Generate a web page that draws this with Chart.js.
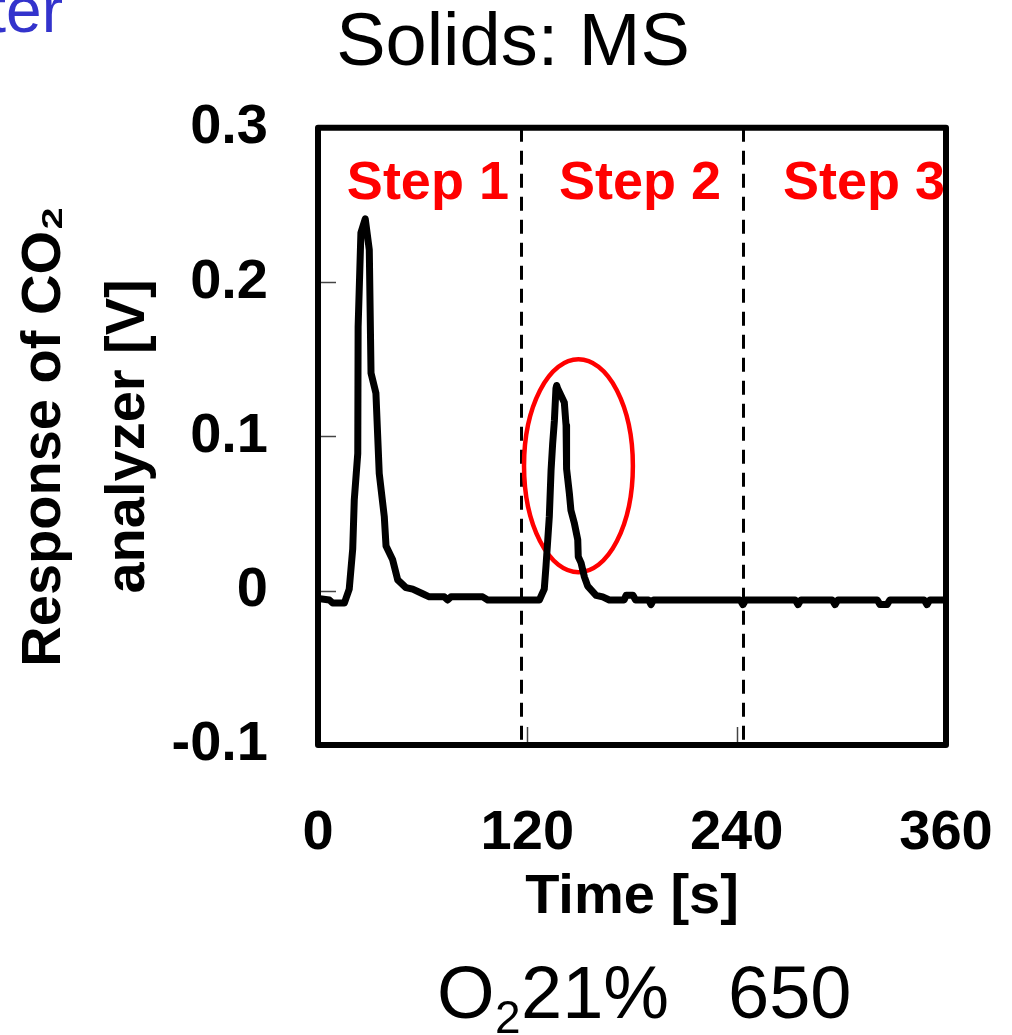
<!DOCTYPE html>
<html><head><meta charset="utf-8">
<script src="https://cdn.jsdelivr.net/npm/chart.js@4/dist/chart.umd.min.js"></script>
<style>html,body{margin:0;padding:0;background:#fff;overflow:hidden}canvas{display:block}</style>
</head><body>
<canvas id="c" width="1012" height="1035"></canvas>
<script>
// ---- data ----
const times = [0, 6.5, 8.4, 15.1, 17.9, 19.9, 20.8, 22.8, 23.0, 24.6, 27.1, 29.4, 30.4, 33.2, 35.1, 38.0, 39.0, 42.8, 45.7, 50.4, 54.3, 60.0, 63.8, 72.4, 74.3, 76.2, 94.4, 97.3, 126.9, 129.7, 130.7, 132.6, 133.6, 134.5, 135.5, 136.4, 136.8, 137.4, 141.2, 142.2, 142.5, 144.1, 145.0, 146.9, 148.9, 149.2, 150.8, 152.7, 154.6, 159.4, 163.2, 167.0, 175.5, 176.6, 180.6, 182, 189.5, 190.9, 192.3, 242, 243.6, 245.2, 273.6, 275.2, 276.8, 294.8, 296.4, 298, 320.6, 322.2, 326.2, 327.8, 347.5, 349.1, 350.7, 360];
const values = [-0.005, -0.006, -0.008, -0.008, 0.001, 0.027, 0.059, 0.089, 0.171, 0.232, 0.241, 0.221, 0.141, 0.128, 0.076, 0.048, 0.029, 0.020, 0.007, 0.002, 0.001, -0.002, -0.004, -0.004, -0.006, -0.004, -0.004, -0.006, -0.006, 0.001, 0.016, 0.048, 0.078, 0.095, 0.110, 0.131, 0.133, 0.131, 0.122, 0.107, 0.079, 0.063, 0.052, 0.044, 0.033, 0.022, 0.018, 0.009, 0.003, -0.003, -0.004, -0.006, -0.006, -0.003, -0.003, -0.006, -0.006, -0.009, -0.006, -0.006, -0.009, -0.006, -0.006, -0.009, -0.006, -0.006, -0.009, -0.006, -0.006, -0.009, -0.009, -0.006, -0.006, -0.009, -0.006, -0.006];
const xTickValues = [0, 120, 240, 360];
const xTickLabels = ['0', '120', '240', '360'];
const yTickValues = [-0.1, 0, 0.1, 0.2, 0.3];
const yTickLabels = ['-0.1', '0', '0.1', '0.2', '0.3'];
const stepLabels = ['Step 1', 'Step 2', 'Step 3'];
const stepLabelTimes = [63, 184.6, 313];
const stepLabelLevel = 0.254;
const stepBoundaries = [116.5, 243.8];
const highlightCenter = [149.3, 0.081];
const highlightRadius = [31.2, 0.069];
const chartTitle = 'Solids: MS';
const xTitle = 'Time [s]';
const yTitle = ['Response of CO\u2082', 'analyzer [V]'];

const F = "'Liberation Sans', Arial, Helvetica, sans-serif";

const decor = {
  id: 'decor',
  beforeDatasetsDraw(chart) {
    const {ctx, chartArea: a, scales: {x, y}} = chart;
    ctx.save();
    ctx.strokeStyle = '#000';
    ctx.lineWidth = 3;
    ctx.setLineDash([14, 9]);
    stepBoundaries.forEach(t => {
      const px = Math.round(x.getPixelForValue(t)) + 0.5;
      ctx.beginPath(); ctx.moveTo(px, a.top); ctx.lineTo(px, a.bottom); ctx.stroke();
    });
    ctx.setLineDash([]);
    const cx = x.getPixelForValue(highlightCenter[0]);
    const cy = y.getPixelForValue(highlightCenter[1]);
    const rx = x.getPixelForValue(highlightCenter[0] + highlightRadius[0]) - cx;
    const ry = cy - y.getPixelForValue(highlightCenter[1] + highlightRadius[1]);
    ctx.strokeStyle = '#ff0000';
    ctx.lineWidth = 4.5;
    ctx.beginPath(); ctx.ellipse(cx, cy, rx, ry, 0, 0, Math.PI * 2); ctx.stroke();
    ctx.restore();
  },
  afterDatasetsDraw(chart) {
    const {ctx, chartArea: a, scales: {x, y}} = chart;
    ctx.save();
    // inner tick marks
    ctx.strokeStyle = '#444'; ctx.lineWidth = 1.5;
    yTickValues.slice(1, -1).forEach(v => {
      const py = Math.round(y.getPixelForValue(v)) + 0.5;
      ctx.beginPath(); ctx.moveTo(a.left, py); ctx.lineTo(a.left + 18, py); ctx.stroke();
    });
    xTickValues.slice(1, -1).forEach(v => {
      const px = Math.round(x.getPixelForValue(v)) + 0.5;
      ctx.beginPath(); ctx.moveTo(px, a.bottom); ctx.lineTo(px, a.bottom - 18); ctx.stroke();
    });
    // frame
    ctx.strokeStyle = '#000'; ctx.lineWidth = 6; ctx.lineJoin = 'round';
    ctx.strokeRect(a.left, a.top, a.right - a.left, a.bottom - a.top);
    // step labels
    ctx.fillStyle = '#ff0000';
    ctx.font = 'bold 54px ' + F;
    ctx.textAlign = 'center'; ctx.textBaseline = 'alphabetic';
    stepLabels.forEach((s, i) => {
      ctx.fillText(s, x.getPixelForValue(stepLabelTimes[i]), y.getPixelForValue(stepLabelLevel));
    });
    ctx.restore();
  },
  afterDraw(chart) {
    const {ctx} = chart;
    ctx.save();
    ctx.fillStyle = '#000';
    ctx.textAlign = 'left'; ctx.textBaseline = 'alphabetic';
    ctx.font = '74px ' + F;
    ctx.fillText('O', 437, 1018);
    ctx.font = '46px ' + F;
    ctx.fillText('2', 495, 1033);
    ctx.font = '74px ' + F;
    ctx.fillText('21%', 521, 1018);
    ctx.fillText('650', 728, 1018);
    // fragment of neighbouring text (cropped at the edge)
    ctx.fillStyle = 'rgb(51,51,204)';
    ctx.font = '64px ' + F;
    ctx.textAlign = 'right';
    ctx.fillText('ter', 63, 32);
    ctx.restore();
  }
};

new Chart(document.getElementById('c'), {
  type: 'line',
  data: {
    datasets: [{
      label: 'Response of CO2 analyzer',
      data: times.map((t, i) => ({x: t, y: values[i]})),
      borderColor: '#000', borderWidth: 7, pointRadius: 0, tension: 0,
      borderJoinStyle: 'round', borderCapStyle: 'round', fill: false,
      xAxisID: 'x', yAxisID: 'y'
    }]
  },
  options: {
    responsive: false, animation: false, devicePixelRatio: 1,
    layout: {padding: {left: 14, right: 0, top: 0, bottom: 100}},
    plugins: {
      legend: {display: false}, tooltip: {enabled: false},
      title: {display: true, text: chartTitle, color: '#000',
        font: {family: F, size: 74, weight: 'normal', lineHeight: 1.2},
        padding: {top: 0, bottom: 39}}
    },
    scales: {
      x: {
        type: 'linear', min: 0, max: 360, position: 'bottom',
        afterFit: s => { s.height = 190; s.paddingLeft = 0; s.paddingRight = 0; },
        afterBuildTicks: s => { s.ticks = xTickValues.map(v => ({value: v})); },
        grid: {display: false, drawTicks: false}, border: {display: false},
        ticks: {padding: 55, color: '#000', maxRotation: 0, autoSkip: false,
          font: {family: F, size: 56, weight: 'bold'},
          callback: (v, i) => xTickLabels[i]},
        title: {display: true, text: xTitle, color: '#000',
          font: {family: F, size: 56, weight: 'bold', lineHeight: 1.2},
          padding: {top: 0, bottom: 4}}
      },
      y: {
        type: 'linear', min: -0.1, max: 0.3, position: 'left',
        afterFit: s => { s.width = 304; s.paddingTop = 0; s.paddingBottom = 0; },
        afterBuildTicks: s => { s.ticks = yTickValues.map(v => ({value: v})); },
        grid: {display: false, drawTicks: false}, border: {display: false},
        ticks: {padding: 50, color: '#000',
          font: {family: F, size: 56, weight: 'bold'},
          callback: (v, i) => yTickLabels[i]},
        title: {display: true, text: yTitle, color: '#000',
          font: {family: F, size: 56, weight: 'bold', lineHeight: 1.5},
          padding: {top: -11, bottom: 0}}
      },
      y2: {
        type: 'linear', position: 'right', display: true,
        afterFit: s => { s.width = 66; s.paddingTop = 0; s.paddingBottom = 0; },
        grid: {display: false, drawTicks: false}, border: {display: false},
        ticks: {display: false}
      }
    }
  },
  plugins: [decor]
});
</script>
</body></html>
